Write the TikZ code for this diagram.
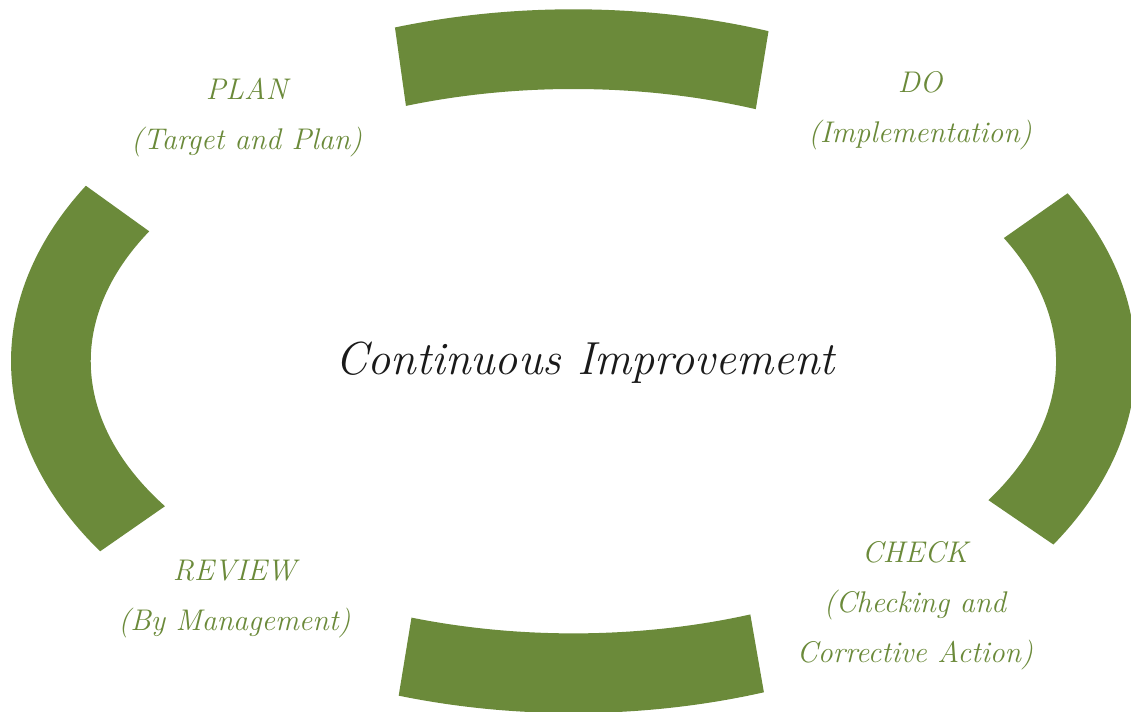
\documentclass[tikz,border=0pt]{standalone}
\definecolor{ringgreen}{RGB}{107,138,58}
\definecolor{labelgreen}{RGB}{107,138,58}
\definecolor{titleink}{RGB}{26,26,26}
\tikzset{
  seg/.style={fill=ringgreen, draw=none},
  outerarc/.style={x radius=562.4bp, y radius=351.9bp},
  innerarc/.style={x radius=482.7bp, y radius=272.2bp},
  phase/.style={text=labelgreen, font=\fontsize{30}{50}\selectfont\itshape, align=center, inner sep=0pt, anchor=north},
  title/.style={text=titleink, font=\fontsize{46.5}{50}\selectfont\itshape, inner sep=0pt, anchor=base}
}
\begin{document}
\begin{tikzpicture}[x=1bp,y=1bp]
\useasboundingbox (0,0) rectangle (1131,712);
\clip (0,0) rectangle (1131,712);
\fill[white] (0,0) rectangle (1131,712);
\coordinate (C) at (573.4,350.8);
\begin{scope}[shift={(C)}]
  % top
  \path[seg] (69.7:562.4bp and 351.9bp) arc[start angle=69.7, end angle=108.5, outerarc]
     -- (110.3:482.7bp and 272.2bp) arc[start angle=110.3, end angle=67.8, innerarc] -- cycle;
  % left
  \path[seg] (150.1:562.4bp and 351.9bp) arc[start angle=150.1, end angle=212.7, outerarc]
     -- (212.2:482.7bp and 272.2bp) arc[start angle=212.2, end angle=151.5, innerarc] -- cycle;
  % bottom
  \path[seg] (251.9:562.4bp and 351.9bp) arc[start angle=251.9, end angle=289.8, outerarc]
     -- (291.5:482.7bp and 272.2bp) arc[start angle=291.5, end angle=250.4, innerarc] -- cycle;
  % right
  \path[seg] (-31.4:562.4bp and 351.9bp) arc[start angle=-31.4, end angle=28.5, outerarc]
     -- (26.9:482.7bp and 272.2bp) arc[start angle=26.9, end angle=-30.7, innerarc] -- cycle;
\end{scope}
\node[title] (ci) at (585,337) {Continuous Improvement};
\node[phase] (plan) at (246.7,634) {PLAN\\(Target and Plan)};
\node[phase] (do) at (920,640.3) {DO\\(Implementation)};
\node[phase] (check) at (915,170.3) {CHECK\\(Checking and\\Corrective Action)};
\node[phase] (review) at (234.5,152) {REVIEW\\(By Management)};
\end{tikzpicture}
\end{document}
